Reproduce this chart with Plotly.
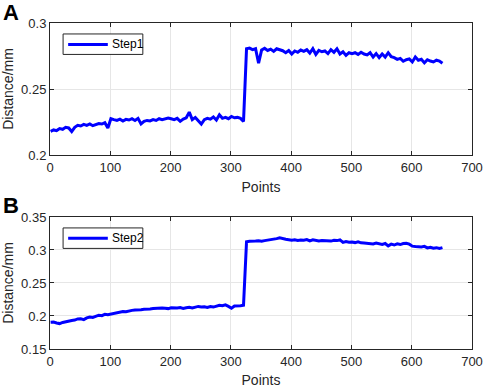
import plotly.graph_objects as go
from plotly.subplots import make_subplots

points = list(range(1, 652, 5))

step1 = [
    0.2180, 0.2190, 0.2185, 0.2200, 0.2195, 0.2210, 0.2205, 0.2178, 0.2210, 0.2225,
    0.2220, 0.2232, 0.2225, 0.2235, 0.2222, 0.2228, 0.2238, 0.2235, 0.2245, 0.2205,
    0.2275, 0.2268, 0.2262, 0.2272, 0.2258, 0.2270, 0.2265, 0.2275, 0.2262, 0.2278,
    0.2235, 0.2255, 0.2262, 0.2258, 0.2268, 0.2262, 0.2275, 0.2268, 0.2272, 0.2280,
    0.2275, 0.2268, 0.2278, 0.2255, 0.2272, 0.2282, 0.2325, 0.2268, 0.2285, 0.2262,
    0.2235, 0.2268, 0.2278, 0.2272, 0.2288, 0.2265, 0.2305, 0.2278, 0.2285, 0.2275,
    0.2292, 0.2282, 0.2285, 0.2278, 0.2255, 0.2805, 0.2810, 0.2798, 0.2805, 0.2695,
    0.2795, 0.2808, 0.2792, 0.2802, 0.2785, 0.2805, 0.2798, 0.2790, 0.2775, 0.2792,
    0.2765, 0.2788, 0.2778, 0.2795, 0.2785, 0.2798, 0.2772, 0.2805, 0.2762, 0.2792,
    0.2782, 0.2788, 0.2768, 0.2798, 0.2778, 0.2805, 0.2765, 0.2782, 0.2755, 0.2775,
    0.2768, 0.2775, 0.2762, 0.2778, 0.2765, 0.2758, 0.2775, 0.2742, 0.2768, 0.2738,
    0.2765, 0.2742, 0.2775, 0.2745, 0.2738, 0.2725, 0.2732, 0.2710, 0.2722, 0.2728,
    0.2705, 0.2742, 0.2718, 0.2725, 0.2698, 0.2722, 0.2712, 0.2705, 0.2718, 0.2712,
    0.2695,
]

step2 = [
    0.1905, 0.1908, 0.1895, 0.1885, 0.1902, 0.1915, 0.1925, 0.1932, 0.1938, 0.1955,
    0.1958, 0.1945, 0.1972, 0.1985, 0.1978, 0.1995, 0.2012, 0.2005, 0.2025, 0.2018,
    0.2028, 0.2035, 0.2048, 0.2052, 0.2068, 0.2065, 0.2078, 0.2085, 0.2092, 0.2088,
    0.2095, 0.2102, 0.2098, 0.2105, 0.2112, 0.2118, 0.2115, 0.2122, 0.2118, 0.2112,
    0.2125, 0.2118, 0.2122, 0.2128, 0.2115, 0.2125, 0.2132, 0.2122, 0.2128, 0.2145,
    0.2135, 0.2138, 0.2128, 0.2142, 0.2135, 0.2145, 0.2162, 0.2155, 0.2168, 0.2145,
    0.2118, 0.2152, 0.2148, 0.2155, 0.2162, 0.3125, 0.3132, 0.3128, 0.3135, 0.3138,
    0.3132, 0.3142, 0.3148, 0.3152, 0.3162, 0.3172, 0.3185, 0.3168, 0.3162, 0.3155,
    0.3148, 0.3155, 0.3145, 0.3152, 0.3148, 0.3158, 0.3138, 0.3155, 0.3148, 0.3135,
    0.3142, 0.3138, 0.3145, 0.3135, 0.3148, 0.3142, 0.3152, 0.3115, 0.3128, 0.3118,
    0.3122, 0.3112, 0.3125, 0.3108, 0.3105, 0.3098, 0.3102, 0.3092, 0.3105, 0.3095,
    0.3085, 0.3098, 0.3062, 0.3088, 0.3075, 0.3092, 0.3082, 0.3098, 0.3102, 0.3088,
    0.3058, 0.3052, 0.3048, 0.3045, 0.3055, 0.3032, 0.3042, 0.3028, 0.3035, 0.3022,
    0.3035,
]

series_names = ["Step1", "Step2"]
panel_labels = ["A", "B"]
x_ticks = [0, 100, 200, 300, 400, 500, 600, 700]
y1_ticks = [0.2, 0.25, 0.3]
y1_labels = ["0.2", "0.25", "0.3"]
y2_ticks = [0.15, 0.2, 0.25, 0.3, 0.35]
y2_labels = ["0.15", "0.2", "0.25", "0.3", "0.35"]

BLUE = "#0000FF"
AX = "#262626"
FONT = "Liberation Sans, Arial, sans-serif"

fig = make_subplots(rows=2, cols=1, vertical_spacing=0.19)
fig.add_trace(go.Scatter(x=points, y=step1, mode="lines", name=series_names[0],
                         line=dict(color=BLUE, width=3)), row=1, col=1)
fig.add_trace(go.Scatter(x=points, y=step2, mode="lines", name=series_names[1],
                         line=dict(color=BLUE, width=3)), row=2, col=1)

axis_common = dict(showline=True, linecolor=AX, linewidth=1, mirror="ticks",
                   ticks="inside", ticklen=4, tickcolor=AX, showgrid=True,
                   gridcolor="#E6E6E6", gridwidth=1, zeroline=False, automargin=False,
                   tickfont=dict(size=13, color=AX, family=FONT))

for r in (1, 2):
    fig.update_xaxes(range=[0, 700], tickvals=x_ticks,
                     title=dict(text="Points", font=dict(size=14, color=AX, family=FONT), standoff=8),
                     row=r, col=1, **axis_common)

fig.update_yaxes(range=[0.2, 0.3], tickvals=y1_ticks, ticktext=y1_labels,
                 title=dict(text="Distance/mm", font=dict(size=14, color=AX, family=FONT), standoff=4),
                 row=1, col=1, **axis_common)
fig.update_yaxes(range=[0.15, 0.35], tickvals=y2_ticks, ticktext=y2_labels,
                 title=dict(text="Distance/mm", font=dict(size=14, color=AX, family=FONT), standoff=4),
                 row=2, col=1, **axis_common)

# manual legend boxes (MATLAB style) in axis-domain coordinates
shapes = []
annotations = []
for i, (xr, yr) in enumerate([("x domain", "y domain"), ("x2 domain", "y2 domain")]):
    shapes.append(dict(type="rect", xref=xr, yref=yr, x0=0.031, x1=0.220, y0=0.762, y1=0.917,
                       line=dict(color=AX, width=1), fillcolor="white", layer="above"))
    shapes.append(dict(type="line", xref=xr, yref=yr, x0=0.043, x1=0.137, y0=0.838, y1=0.838,
                       line=dict(color=BLUE, width=3), layer="above"))
    annotations.append(dict(text=series_names[i], xref=xr, yref=yr, x=0.141, y=0.838,
                            xanchor="left", yanchor="middle", showarrow=False,
                            font=dict(size=12, color="black", family=FONT)))

annotations.append(dict(text="<b>" + panel_labels[0] + "</b>", x=-0.116, y=1.031, xref="paper", yref="paper",
                        xanchor="left", yanchor="middle", showarrow=False,
                        font=dict(size=22, color="black", family=FONT)))
annotations.append(dict(text="<b>" + panel_labels[1] + "</b>", x=-0.116, y=0.441, xref="paper", yref="paper",
                        xanchor="left", yanchor="middle", showarrow=False,
                        font=dict(size=22, color="black", family=FONT)))

fig.update_layout(
    width=484, height=388,
    margin=dict(l=50, r=12, t=23, b=39),
    plot_bgcolor="white", paper_bgcolor="white",
    font=dict(family=FONT, color=AX),
    showlegend=False,
    xaxis=dict(domain=[0, 1]), yaxis=dict(domain=[0.595, 1.0]),
    xaxis2=dict(domain=[0, 1]), yaxis2=dict(domain=[0.0, 0.405]),
    shapes=shapes,
    annotations=annotations,
)

# remove the browser's default page margin so the figure fills the window exactly
fig.write_html("out.html", config={"displayModeBar": False},
               post_script="document.body.style.margin='0';document.body.style.overflow='hidden';")
